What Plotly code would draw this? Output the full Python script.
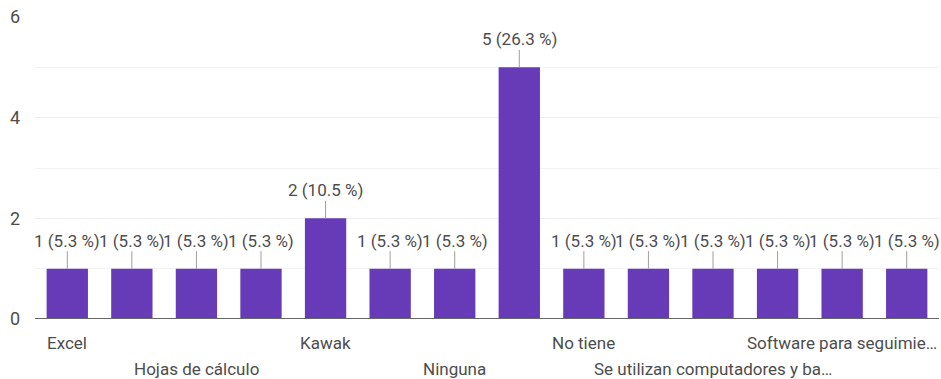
import plotly.graph_objects as go

# Response counts per answer (answers sorted alphabetically; only every other label is printed)
categories = ["Excel", "", "Hojas de cálculo", "", "Kawak", "", "Ninguna", "",
              "No tiene", "", "Se utilizan computadores y ba…", "", "Software para seguimie…", ""]
counts = [1, 1, 1, 1, 2, 1, 1, 5, 1, 1, 1, 1, 1, 1]
y_ticks = [0, 2, 4, 6]

total = sum(counts)
positions = list(range(len(counts)))

BAR = "#673AB7"
TEXT = "#4d4d4d"
FONT = "Roboto"

fig = go.Figure()
fig.add_trace(go.Bar(
    x=positions, y=counts, marker=dict(color=BAR, line=dict(width=0)),
    hoverinfo="skip",
))

annotations = []
# value labels with a short leader line from the bar top
for xi, v in zip(positions, counts):
    annotations.append(dict(
        x=xi, y=v, xref="x", yref="y",
        text=f"{v} ({v / total * 100:.1f} %)",
        showarrow=True, arrowhead=0, arrowwidth=1, arrowcolor="#9e9e9e",
        ax=0, ay=-28, standoff=0, borderpad=0,
        font=dict(family=FONT, size=17, color=TEXT),
    ))

# staggered category labels under the axis
shown = [i for i, c in enumerate(categories) if c]
for k, i in enumerate(shown):
    annotations.append(dict(
        x=i, y=0, xref="x", yref="paper", yanchor="middle",
        yshift=-24 if k % 2 == 0 else -50,
        text=categories[i], showarrow=False,
        font=dict(family=FONT, size=17, color=TEXT),
    ))

fig.update_layout(
    width=941, height=379,
    margin=dict(l=35, r=2, t=17, b=60),
    paper_bgcolor="white", plot_bgcolor="white",
    bargap=0.36, showlegend=False,
    annotations=annotations,
    font=dict(family=FONT, size=17, color=TEXT),
    xaxis=dict(range=[-0.5, len(counts) - 0.5], showticklabels=False,
               showgrid=False, zeroline=False, showline=False, ticks=""),
    yaxis=dict(range=[0, 6], tickvals=y_ticks, dtick=1,
               showgrid=True, gridcolor="#eeeeee", gridwidth=1,
               minor=dict(dtick=1, showgrid=True, gridcolor="#f3f3f3"),
               zeroline=False, showline=False, ticks="",
               ticklabelstandoff=14,
               tickfont=dict(family=FONT, size=18, color=TEXT)),
    shapes=[dict(type="line", xref="paper", yref="y", x0=0, x1=1, y0=0, y1=0,
                 line=dict(color="#666666", width=2), layer="above")],
)

fig.write_html("out.html")
